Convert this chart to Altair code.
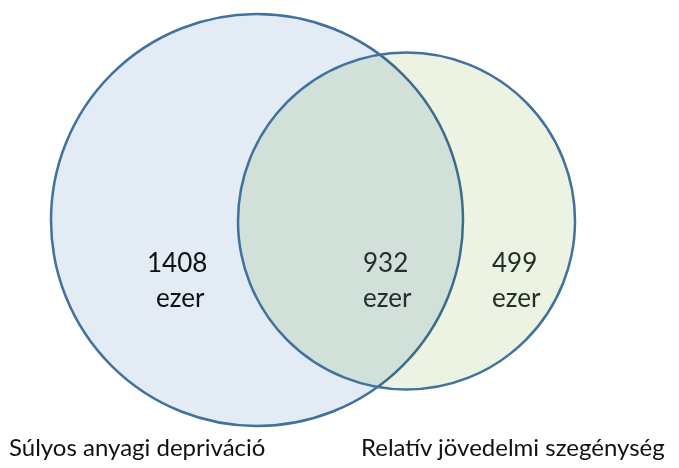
import altair as alt
import pandas as pd

# --- data ---
set_names = ["Súlyos anyagi depriváció", "Relatív jövedelmi szegénység"]
region_values = ["1408", "932", "499"]
unit_label = "ezer"

# --- layout (reference pixel coordinates) ---
circle_cx = [257, 406.5]
circle_cy = [220, 221]
circle_r = [206, 168.5]
circle_fill = ["#e3ebf5", "#ecf3e3"]
stroke_col = "#41719c"

val_x = [147, 363, 492]
unit_x = [156, 363, 492]
val_y = 272
unit_y = 307
val_col = ["#111111", "#22302a", "#22302a"]

name_x = [9, 361]
name_y = 456

W, H = 663, 452
xs = alt.Scale(domain=[8, 8 + W], nice=False, zero=False)
ys = alt.Scale(domain=[8, 8 + H], nice=False, zero=False, reverse=True)

circles = pd.DataFrame({
    "set": set_names,
    "cx": circle_cx,
    "cy": circle_cy,
    "size": [(2 * r) ** 2 for r in circle_r],
})

enc = dict(
    x=alt.X("cx:Q", scale=xs, axis=None),
    y=alt.Y("cy:Q", scale=ys, axis=None),
    size=alt.Size("size:Q", scale=None, legend=None),
)

left = alt.Chart(circles.iloc[[0]]).mark_point(
    shape="circle", filled=True, fill=circle_fill[0], stroke=stroke_col,
    strokeWidth=2.5, opacity=1, fillOpacity=1
).encode(**enc)

right_fill = alt.Chart(circles.iloc[[1]]).mark_point(
    shape="circle", filled=True, fill=circle_fill[1], strokeOpacity=0,
    opacity=1, fillOpacity=1, blend="multiply"
).encode(**enc)

right_stroke = alt.Chart(circles.iloc[[1]]).mark_point(
    shape="circle", filled=False, stroke=stroke_col, strokeWidth=2.5, opacity=1
).encode(**enc)

labels = pd.DataFrame({
    "text": region_values + [unit_label] * 3,
    "x": val_x + unit_x,
    "y": [val_y] * 3 + [unit_y] * 3,
    "color": val_col + val_col,
})
text_layer = alt.Chart(labels).mark_text(
    font="Lato", fontSize=26, align="left", baseline="alphabetic"
).encode(
    x=alt.X("x:Q", scale=xs, axis=None),
    y=alt.Y("y:Q", scale=ys, axis=None),
    text="text:N",
    color=alt.Color("color:N", scale=None, legend=None),
)

names = pd.DataFrame({"text": set_names, "x": name_x, "y": [name_y] * 2})
name_layer = alt.Chart(names).mark_text(
    font="Lato", fontSize=24, align="left", baseline="alphabetic", color="#111111"
).encode(
    x=alt.X("x:Q", scale=xs, axis=None),
    y=alt.Y("y:Q", scale=ys, axis=None),
    text="text:N",
)

chart = alt.layer(left, right_fill, right_stroke, text_layer, name_layer).properties(
    width=W, height=H, padding=0, autosize=alt.AutoSizeParams(type="none"),
    background="white"
).configure_view(stroke=None)

chart.save("out.html", embed_options={"renderer": "svg", "actions": False})
